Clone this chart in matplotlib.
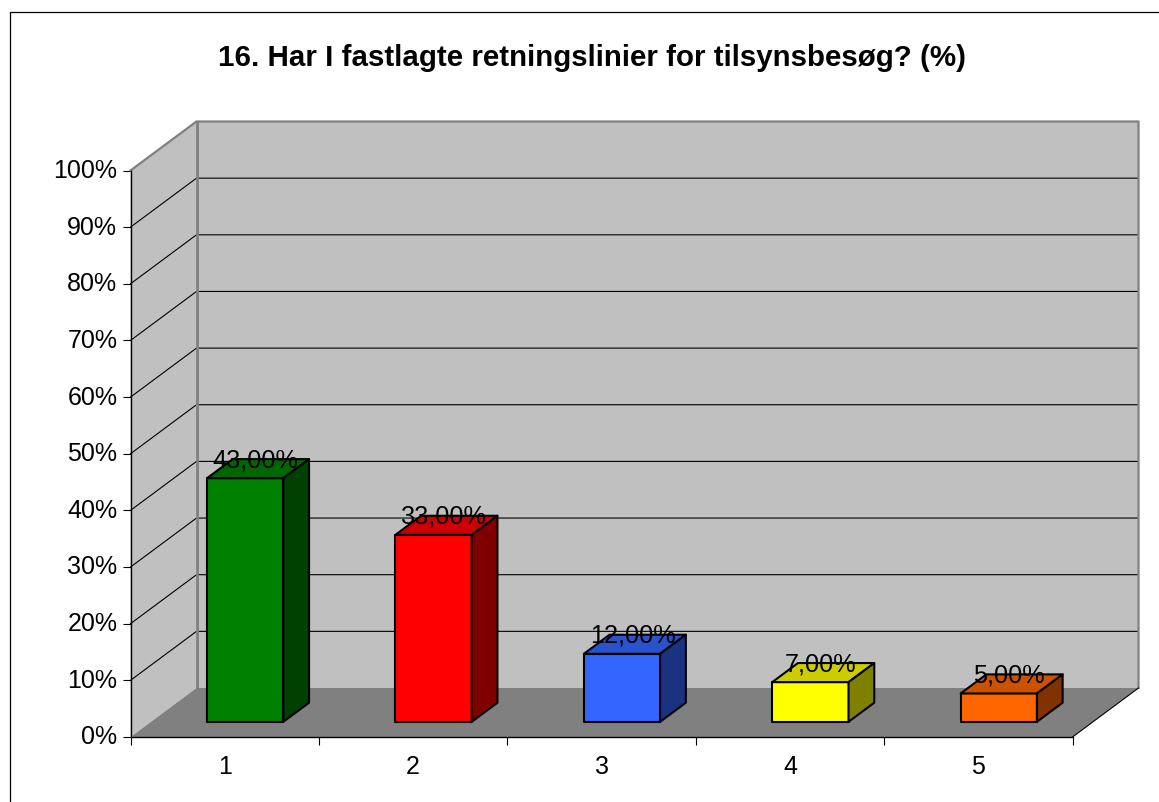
import matplotlib
matplotlib.use('Agg')
import matplotlib.pyplot as plt
from matplotlib.lines import Line2D
from matplotlib.patches import Polygon
from matplotlib.transforms import ScaledTranslation

plt.rcParams['font.family'] = ['Liberation Sans', 'DejaVu Sans']

categories = ['1', '2', '3', '4', '5']
values = [43, 33, 12, 7, 5]
value_labels = ['43,00%', '33,00%', '12,00%', '7,00%', '5,00%']
y_ticks = [0, 10, 20, 30, 40, 50, 60, 70, 80, 90, 100]
y_tick_labels = ['0%', '10%', '20%', '30%', '40%', '50%', '60%', '70%', '80%', '90%', '100%']
title = '16. Har I fastlagte retningslinier for tilsynsbesøg? (%)'

front_colors = ['#008000', '#FF0000', '#3366FF', '#FFFF00', '#FF6600']
top_colors = ['#006600', '#CC0000', '#2952CC', '#CCCC00', '#CC5200']
side_colors = ['#004000', '#800000', '#1A3380', '#808000', '#803300']

W, H = 1159, 802
fig = plt.figure(figsize=(W / 100, H / 100), dpi=100)
left, right, bottom, top = 130.5, 1072.5, 737, 170.5
ax = fig.add_axes([left / W, 1 - bottom / H, (right - left) / W, (bottom - top) / H])
ax.set_xlim(0, 5)
ax.set_ylim(0, 100)
ax.patch.set_visible(False)

# how far the floor goes back, in data units
DX = 66 / ((right - left) / 5)
DY = 49 / ((bottom - top) / 100)


def pt(x, y, d=0.0):
    return (x + d * DX, y + d * DY)


def face(points, color, edge='none', lw=0.0, z=1):
    ax.add_patch(Polygon(points, closed=True, facecolor=color, edgecolor=edge,
                         linewidth=lw, zorder=z, clip_on=False, joinstyle='round'))


# walls and floor
face([pt(0, 0), pt(0, 0, 1), pt(0, 100, 1), pt(0, 100)], '#C0C0C0')
face([pt(0, 0, 1), pt(5, 0, 1), pt(5, 100, 1), pt(0, 100, 1)], '#C0C0C0')

for t in y_ticks[1:-1]:
    xs, ys = zip(pt(0, t), pt(0, t, 1), pt(5, t, 1))
    ax.plot(xs, ys, color='black', lw=0.8, zorder=2, clip_on=False)

face([pt(0, 0), pt(5, 0), pt(5, 0, 1), pt(0, 0, 1)], '#808080', z=3)

xs, ys = zip(pt(0, 100), pt(0, 100, 1), pt(5, 100, 1), pt(5, 0, 1))
ax.plot(xs, ys, color='#808080', lw=1.6, zorder=2.5, clip_on=False)
xs, ys = zip(pt(0, 0, 1), pt(0, 100, 1))
ax.plot(xs, ys, color='#808080', lw=2.0, zorder=2.5, clip_on=False)
xs, ys = zip(pt(5, 0), pt(5, 0, 1))
ax.plot(xs, ys, color='black', lw=0.8, zorder=4, clip_on=False)

# bars
bar_w = 0.405
d0, d1 = 0.31, 0.70
for i, v in enumerate(values):
    x0 = i + 0.5 - bar_w / 2
    x1 = i + 0.5 + bar_w / 2
    face([pt(x0, 0, d0), pt(x1, 0, d0), pt(x1, v, d0), pt(x0, v, d0)],
         front_colors[i], 'black', 1.5, 5)
    face([pt(x0, v, d0), pt(x1, v, d0), pt(x1, v, d1), pt(x0, v, d1)],
         top_colors[i], 'black', 1.5, 5)
    face([pt(x1, 0, d0), pt(x1, 0, d1), pt(x1, v, d1), pt(x1, v, d0)],
         side_colors[i], 'black', 1.5, 5)
    lx, ly = pt(i + 0.5, v, 0.47)
    ly = v + d1 * DY - 0.2
    ax.text(lx, ly, value_labels[i], ha='center', va='center', fontsize=18.2,
            color='black', zorder=6, clip_on=False)

# axes
for s in ['top', 'right']:
    ax.spines[s].set_visible(False)
ax.spines['left'].set_linewidth(1.0)
ax.spines['bottom'].set_linewidth(1.0)
ax.spines['left'].set_zorder(7)
ax.spines['bottom'].set_zorder(7)
ax.set_yticks(y_ticks)
ax.set_yticklabels(y_tick_labels, fontsize=18)
ax.tick_params(axis='y', length=5.5, width=0.8, pad=4)
ax.set_xticks(range(6))
ax.set_xticklabels([])
ax.set_xticks([i + 0.5 for i in range(5)], minor=True)
ax.set_xticklabels(categories, minor=True, fontsize=18)
ax.tick_params(axis='x', which='major', length=5.8, width=0.8)
ax.tick_params(axis='x', which='minor', length=0, pad=13)

# y labels sit a little above their ticks in the original
up = ScaledTranslation(0, 1.5 / 72, fig.dpi_scale_trans)
for lab in ax.get_yticklabels():
    lab.set_transform(lab.get_transform() + up)

fig.text(592.5 / W, 1 - 58.5 / H, title, ha='center', va='center', fontsize=21.25, fontweight='bold')

# chart frame, only the top and left edges fall inside the picture
fig.add_artist(Line2D([9.8 / W, 9.8 / W, 1], [0, 1 - 11.5 / H, 1 - 11.5 / H],
                      color='black', lw=0.9, transform=fig.transFigure))

fig.savefig('out.png', dpi=100, facecolor='white')
